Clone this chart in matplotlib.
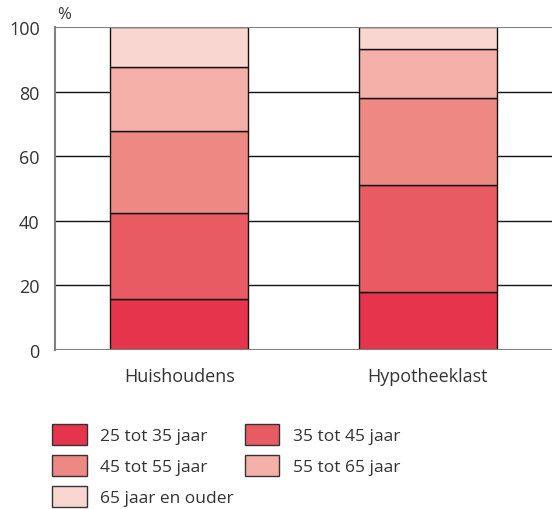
import numpy as np
import matplotlib.pyplot as plt
from matplotlib.patches import Patch

plt.rcParams['font.family'] = ['Open Sans', 'DejaVu Sans']

# gegevens
categories = ['Huishoudens', 'Hypotheeklast']
labels = ['25 tot 35 jaar', '35 tot 45 jaar', '45 tot 55 jaar', '55 tot 65 jaar', '65 jaar en ouder']
huishoudens = [15.8, 26.6, 25.4, 19.7, 12.5]
hypotheeklast = [17.9, 33.3, 26.7, 15.4, 6.7]
colors = ['#E5344C', '#E85B62', '#EE8883', '#F4B0A8', '#F9D6D0']
yticks = [0, 20, 40, 60, 80, 100]

fig = plt.figure(figsize=(5.52, 5.10), dpi=100)
ax = fig.add_axes([0.0996, 0.312, 0.9004, 0.633])

values = np.array([huishoudens, hypotheeklast]).T
x = np.arange(len(categories))
bottom = np.zeros(len(categories))
for i, row in enumerate(values):
    ax.bar(x, row, bottom=bottom, width=0.555, color=colors[i],
           edgecolor='#111111', linewidth=1.0, zorder=3)
    bottom += row

# rasterlijnen
for t in yticks[1:-1]:
    ax.axhline(t, color='#111111', linewidth=1.0, zorder=1)
for t in (0, 100):
    ax.axhline(t, color='#808080', linewidth=1.5, zorder=4)

ax.set_xlim(-0.5, 1.5)
ax.set_ylim(0, 100)
ax.set_yticks(yticks)
ax.set_xticks(x)
ax.set_xticklabels(categories)
ax.tick_params(length=0, labelsize=13, colors='#333333')
ax.tick_params(axis='y', pad=11)
ax.tick_params(axis='x', pad=12)
for s in ('top', 'right', 'bottom'):
    ax.spines[s].set_visible(False)
ax.spines['left'].set_color('#808080')
ax.spines['left'].set_linewidth(1.5)
ax.text(0.005, 1.015, '%', transform=ax.transAxes, fontsize=12, color='#333333',
        ha='left', va='bottom')

handles = [Patch(facecolor=c, edgecolor='#333333', linewidth=1.0) for c in colors]
order = [0, 2, 4, 1, 3]
fig.legend([handles[i] for i in order], [labels[i] for i in order],
           ncol=2, loc='upper left', bbox_to_anchor=(0.094, 0.166),
           frameon=False, fontsize=12.5, handlelength=2.0, handleheight=1.45,
           labelspacing=0.6, handletextpad=0.8, columnspacing=0.6,
           borderaxespad=0, borderpad=0, labelcolor='#333333')

fig.savefig('out.png', dpi=100)
